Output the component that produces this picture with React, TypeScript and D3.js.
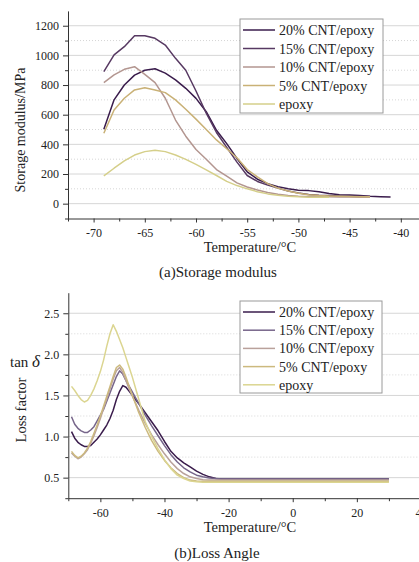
import React, { useRef, useEffect } from 'react';
import * as d3 from 'd3';

const seriesNames = ['20% CNT/epoxy', '15% CNT/epoxy', '10% CNT/epoxy', '5% CNT/epoxy', 'epoxy'];

// (a) storage modulus, MPa
const tempA = [-69, -68, -67, -66, -65, -64, -63, -62, -61, -60, -59, -58, -57, -56, -55,
  -54, -53, -52, -51, -50, -49, -48, -47, -46, -45, -44, -43, -42, -41];
const mod20 = [502, 700, 800, 867, 900, 910, 880, 835, 778, 710, 620, 495, 405, 305, 215,
  165, 135, 115, 100, 90, 88, 80, 68, 60, 58, 55, 50, 47, 45];
const mod15 = [890, 1003, 1059, 1133, 1133, 1115, 1070, 980, 900, 760, 610, 480, 380, 280, 190,
  150, 125, 105, 85, 72, 62, 57, 55, 52, 50, 50, 48];
const mod10 = [816, 868, 906, 924, 872, 816, 711, 564, 455, 365, 300, 230, 185, 140, 112,
  92, 76, 64, 55, 50, 48, 47, 46, 45, 45, 44, 44];
const mod5 = [475, 632, 711, 767, 782, 767, 749, 700, 637, 570, 500, 430, 370, 310, 230,
  180, 135, 105, 85, 70, 60, 55, 52, 50, 48, 47, 46];
const modEpoxy = [187, 239, 288, 328, 351, 360, 351, 328, 299, 265, 228, 190, 150, 122, 100,
  81, 66, 56, 50, 46, 44, 43, 43];

// (b) loss factor tan delta
const tempB = [-69, -68, -67, -66, -65, -64, -63, -62, -61, -60, -59, -58, -57, -56, -55, -54, -53, -52, -51, -50,
  -48, -46, -44, -42, -40, -38, -36, -34, -32, -30, -28, -26, -24, -22, -20, 0, 20, 30];
const tan20 = [1.06, 0.98, 0.93, 0.90, 0.88, 0.88, 0.89, 0.93, 0.97, 1.02, 1.08, 1.14, 1.22, 1.32, 1.45, 1.55, 1.62, 1.60, 1.55, 1.50,
  1.40, 1.29, 1.18, 1.07, 0.94, 0.82, 0.74, 0.68, 0.63, 0.58, 0.54, 0.51, 0.49, 0.485, 0.485, 0.485, 0.485, 0.485];
const tan15 = [1.24, 1.15, 1.10, 1.07, 1.05, 1.05, 1.08, 1.12, 1.19, 1.26, 1.33, 1.43, 1.53, 1.63, 1.73, 1.80, 1.76, 1.68, 1.61, 1.54,
  1.40, 1.26, 1.13, 1.01, 0.89, 0.78, 0.69, 0.62, 0.57, 0.53, 0.51, 0.495, 0.49, 0.485, 0.485, 0.485, 0.485, 0.485];
const tan10 = [0.80, 0.76, 0.73, 0.75, 0.79, 0.84, 0.92, 1.01, 1.11, 1.22, 1.34, 1.46, 1.58, 1.70, 1.80, 1.84, 1.78, 1.68, 1.58, 1.49,
  1.32, 1.16, 1.02, 0.90, 0.79, 0.69, 0.61, 0.55, 0.51, 0.49, 0.475, 0.47, 0.47, 0.47, 0.47, 0.47, 0.47, 0.47];
const tan5 = [0.82, 0.77, 0.74, 0.76, 0.80, 0.86, 0.94, 1.04, 1.14, 1.25, 1.37, 1.49, 1.61, 1.73, 1.84, 1.87, 1.82, 1.72, 1.61, 1.50,
  1.29, 1.11, 0.95, 0.82, 0.71, 0.62, 0.55, 0.50, 0.47, 0.46, 0.455, 0.455, 0.455, 0.455, 0.455, 0.455, 0.455, 0.455];
const tanEpoxy = [1.61, 1.56, 1.50, 1.45, 1.42, 1.44, 1.50, 1.58, 1.68, 1.79, 1.93, 2.10, 2.25, 2.36, 2.28, 2.18, 2.08, 1.96, 1.84, 1.72,
  1.45, 1.18, 1.00, 0.85, 0.72, 0.61, 0.53, 0.49, 0.46, 0.45, 0.445, 0.445, 0.445, 0.445, 0.445, 0.445, 0.445, 0.445];

const xTicksA = [-70, -65, -60, -55, -50, -45, -40];
const xMinorA = [-72.5, -67.5, -62.5, -57.5, -52.5, -47.5, -42.5];
const yTicksA = [0, 200, 400, 600, 800, 1000, 1200];
const yMinorA = [-100, 100, 300, 500, 700, 900, 1100];

const xTicksB = [-60, -40, -20, 0, 20, 40];
const xMinorB = [-70, -50, -30, -10, 10, 30];
const yTicksB = [0.5, 1.0, 1.5, 2.0, 2.5];
const yMinorB = [0.25, 0.75, 1.25, 1.75, 2.25];

const colorsA = ['#3a1c4c', '#573962', '#b39690', '#c9b176', '#d5cf8a'];
const colorsB = ['#3a1c4c', '#76658a', '#b9a19b', '#ccb97e', '#dbd590'];

const FONT = '"Liberation Serif", "Times New Roman", serif';

function drawPanel(svg, cfg) {
  const { left, right, top, bottom, xDomain, yDomain, xTicks, xMinor, yTicks, yMinor, yFmt, xs, ys, colors, legend } = cfg;
  const x = d3.scaleLinear().domain(xDomain).range([left, right]);
  const y = d3.scaleLinear().domain(yDomain).range([bottom, top]);
  const g = svg.append('g');

  // grid
  g.selectAll('.gmaj').data(yTicks).enter().append('line')
    .attr('x1', left).attr('x2', right).attr('y1', (d) => y(d)).attr('y2', (d) => y(d))
    .attr('stroke', '#d6d6d6').attr('stroke-width', 1);
  g.selectAll('.gmin').data(yMinor.filter((d) => d > yDomain[0])).enter().append('line')
    .attr('x1', left).attr('x2', right).attr('y1', (d) => y(d)).attr('y2', (d) => y(d))
    .attr('stroke', '#d6d6d6').attr('stroke-width', 1).attr('stroke-dasharray', '1,2');

  // lines
  const line = d3.line().x((d) => x(d[0])).y((d) => y(d[1]));
  ys.forEach((vals, i) => {
    g.append('path')
      .datum(vals.map((v, j) => [xs[j], v]))
      .attr('fill', 'none')
      .attr('stroke', colors[i])
      .attr('stroke-width', 1.5)
      .attr('stroke-linejoin', 'round')
      .attr('d', line);
  });

  // axes
  const styleAxis = (ag) => {
    ag.attr('font-family', FONT).attr('font-size', 12);
    ag.selectAll('line').attr('stroke', '#333');
    ag.select('.domain').attr('stroke', '#333');
    ag.selectAll('text').attr('fill', '#222').attr('font-family', FONT).attr('font-size', 12);
  };
  const xa = g.append('g').attr('transform', `translate(0,${bottom})`)
    .call(d3.axisBottom(x).tickValues(xTicks).tickSize(4).tickSizeOuter(0).tickPadding(6).tickFormat((d) => String(d)));
  styleAxis(xa);
  const xm = g.append('g').attr('transform', `translate(0,${bottom})`)
    .call(d3.axisBottom(x).tickValues(xMinor).tickSize(3).tickFormat(() => ''));
  xm.select('.domain').remove();
  styleAxis(xm);
  const ya = g.append('g').attr('transform', `translate(${left},0)`)
    .call(d3.axisLeft(y).tickValues(yTicks).tickSize(5).tickSizeOuter(0).tickPadding(4).tickFormat(yFmt));
  styleAxis(ya);
  const ym = g.append('g').attr('transform', `translate(${left},0)`)
    .call(d3.axisLeft(y).tickValues(yMinor).tickSize(3).tickFormat(() => ''));
  ym.select('.domain').remove();
  styleAxis(ym);

  // legend
  const lg = g.append('g');
  lg.append('rect').attr('x', legend.x).attr('y', legend.y).attr('width', legend.w).attr('height', legend.h)
    .attr('fill', '#fff').attr('stroke', '#9a9a9a').attr('stroke-width', 1);
  seriesNames.forEach((name, i) => {
    const cy = legend.y + 11 + i * legend.step;
    lg.append('line').attr('x1', legend.x + 3).attr('x2', legend.x + 35).attr('y1', cy).attr('y2', cy)
      .attr('stroke', colors[i]).attr('stroke-width', 1.5);
    lg.append('text').attr('x', legend.x + 39).attr('y', cy + 5).text(name)
      .attr('font-family', FONT).attr('font-size', 14).attr('fill', '#222');
  });
}

export default function App() {
  const ref = useRef(null);

  useEffect(() => {
    const svg = d3.select(ref.current);
    svg.selectAll('*').remove();

    drawPanel(svg, {
      left: 68, right: 426.4, top: 10.9, bottom: 218.5,
      xDomain: [-72.5, -37.5], yDomain: [-100, 1300],
      xTicks: xTicksA, xMinor: xMinorA, yTicks: yTicksA, yMinor: yMinorA,
      yFmt: (d) => String(d),
      xs: tempA, ys: [mod20, mod15, mod10, mod5, modEpoxy], colors: colorsA,
      legend: { x: 240, y: 19, w: 143, h: 94, step: 18.5 },
    });
    drawPanel(svg, {
      left: 68.3, right: 437, top: 292.7, bottom: 498.2,
      xDomain: [-70, 45], yDomain: [0.25, 2.75],
      xTicks: xTicksB, xMinor: xMinorB, yTicks: yTicksB, yMinor: yMinorB,
      yFmt: d3.format('.1f'),
      xs: tempB, ys: [tan20, tan15, tan10, tan5, tanEpoxy], colors: colorsB,
      legend: { x: 240, y: 301, w: 142, h: 92, step: 18.2 },
    });

    const txt = (x, y, s, size, extra = {}) => {
      const t = svg.append('text').attr('x', x).attr('y', y).text(s)
        .attr('font-family', FONT).attr('font-size', size).attr('fill', '#222');
      Object.entries(extra).forEach(([k, v]) => t.attr(k, v));
      return t;
    };
    txt(250, 252, 'Temperature/°C', 14.5, { 'text-anchor': 'middle' });
    txt(218, 277, '(a)Storage modulus', 15, { 'text-anchor': 'middle' });
    txt(25, 130, 'Storage modulus/MPa', 14, { 'text-anchor': 'middle', transform: 'rotate(-90,25,130)' });

    txt(250, 532, 'Temperature/°C', 14.5, { 'text-anchor': 'middle' });
    txt(217, 558, '(b)Loss Angle', 15, { 'text-anchor': 'middle' });
    txt(26, 410, 'Loss factor', 14.5, { 'text-anchor': 'middle', transform: 'rotate(-90,26,410)' });
    const tan = txt(10, 367, 'tan ', 15);
    tan.append('tspan').attr('font-style', 'italic').attr('font-size', 17).text('δ');
  }, []);

  return (
    <svg ref={ref} width={419} height={562}
      style={{ position: 'absolute', left: 0, top: 0, background: '#fff' }} />
  );
}
